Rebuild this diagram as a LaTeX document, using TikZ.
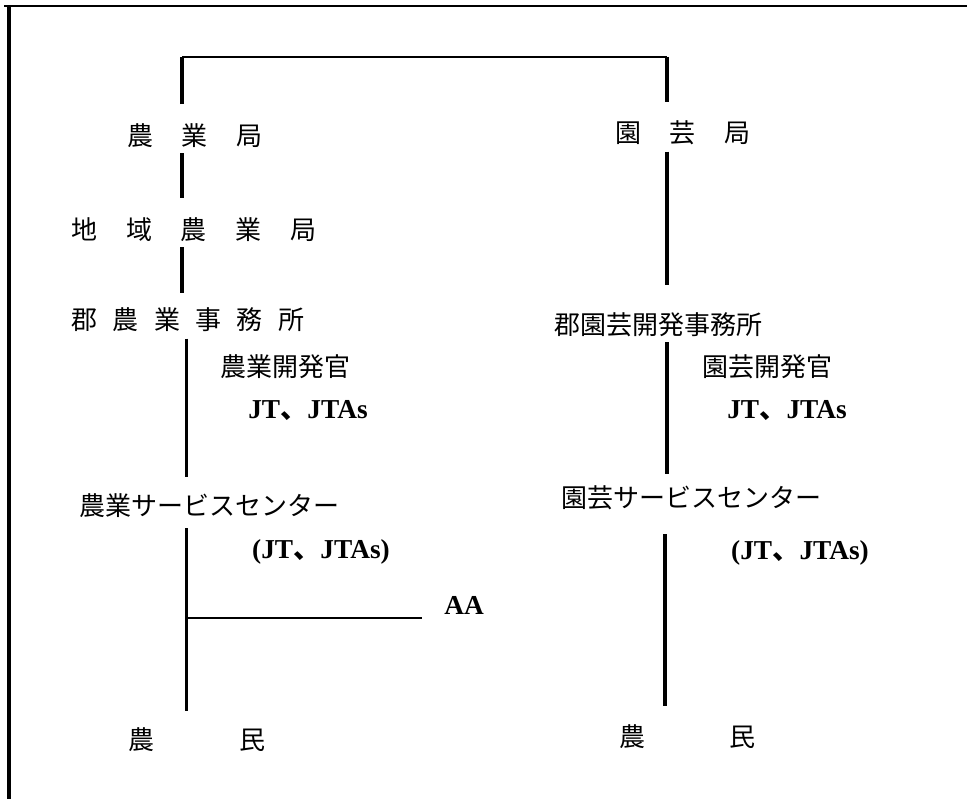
\documentclass[tikz,border=0pt]{standalone}
\usepackage{fontspec}
\setmainfont{Liberation Serif}
\newfontfamily\jp{Noto Sans CJK JP}
\begin{document}
\begin{tikzpicture}[x=0.75pt,y=-0.75pt,
  jtxt/.style={inner sep=0pt, font=\jp\fontsize{19.5}{20}\selectfont, text height=16.2pt, text depth=1.4pt},
  ltxt/.style={inner sep=0pt, font=\bfseries\fontsize{20.5}{22}\selectfont},
  vline/.style={line width=2.3pt},
  hline/.style={line width=1.3pt},
  conn/.style={vline, shorten <=4pt, shorten >=13pt}]
\useasboundingbox (0,0) rectangle (967,799);
% frame
\coordinate (fTL) at (9,6);
\draw[line width=1.1pt] (4,6) -- (967,6);
\draw[line width=2.6pt] (fTL) -- (9,799);
% left column
\node[jtxt] (a1) at (195,136) {農\hspace{21.75pt}業\hspace{21.75pt}局};
\node[jtxt] (a2) at (194,230) {地\hspace{21.4pt}域\hspace{21.4pt}農\hspace{21.4pt}業\hspace{21.4pt}局};
\node[jtxt] (a3) at (188,320) {郡\hspace{11.5pt}農\hspace{11.5pt}業\hspace{11.5pt}事\hspace{11.5pt}務\hspace{11.5pt}所};
\node[jtxt] (a4) at (285,367) {農業開発官};
\node[ltxt] (a5) at (308,411) {JT{\jp 、}JTAs};
\node[jtxt] (a6) at (209,506) {農業サービスセンター};
\node[ltxt] (a7) at (321,552) {(JT{\jp 、}JTAs)};
\node[ltxt] (aa) at (464,605) {AA};
\node[jtxt] (a8) at (197,740) {農\hspace{64pt}民};
% right column
\node[jtxt] (b1) at (683,133) {園\hspace{21.75pt}芸\hspace{21.75pt}局};
\node[jtxt] (b3) at (658,325) {郡園芸開発事務所};
\node[jtxt] (b4) at (767,367) {園芸開発官};
\node[ltxt] (b5) at (787,411) {JT{\jp 、}JTAs};
\node[jtxt] (b6) at (691,498) {園芸サービスセンター};
\node[ltxt] (b7) at (800,553) {(JT{\jp 、}JTAs)};
\node[jtxt] (b8) at (687,737) {農\hspace{63pt}民};
% line positions
\coordinate (xL1) at (182,0);
\coordinate (xL2) at (186.5,0);
\coordinate (xR1) at (667,0);
\coordinate (xR2) at (665,0);
\coordinate (topL) at (182,57);
\coordinate (topR) at (667,57);
\coordinate (br) at (186.5,618);
% top bracket
\draw[vline, shorten <=15pt] (a1.north -| topL) -- (topL);
\draw[hline] (topL) -- (topR);
\draw[vline, shorten >=14pt] (topR) -- (b1.north -| topR);
% left connectors
\draw[conn, shorten <=3.75pt, shorten >=15pt] (a1.south -| xL1) -- (a2.north -| xL1);
\draw[conn, shorten <=3.75pt, shorten >=11.25pt] (a2.south -| xL1) -- (a3.north -| xL1);
\draw[conn, shorten <=5pt, shorten >=12.75pt] (a3.south -| xL2) -- (a6.north -| xL2);
\draw[conn, shorten <=7.5pt, shorten >=12.75pt] (a6.south -| xL2) -- (a8.north -| xL2);
\draw[hline, shorten >=16.5pt] (br) -- (br -| aa.west);
% right connectors
\draw[conn, shorten <=5pt, shorten >=21pt] (b1.south -| xR1) -- (b3.north -| xR1);
\draw[conn, shorten <=3.75pt, shorten >=9pt] (b3.south -| xR1) -- (b6.north -| xR1);
\draw[conn, shorten <=18pt, shorten >=14pt] (b6.south -| xR2) -- (b8.north -| xR2);
\end{tikzpicture}
\end{document}
